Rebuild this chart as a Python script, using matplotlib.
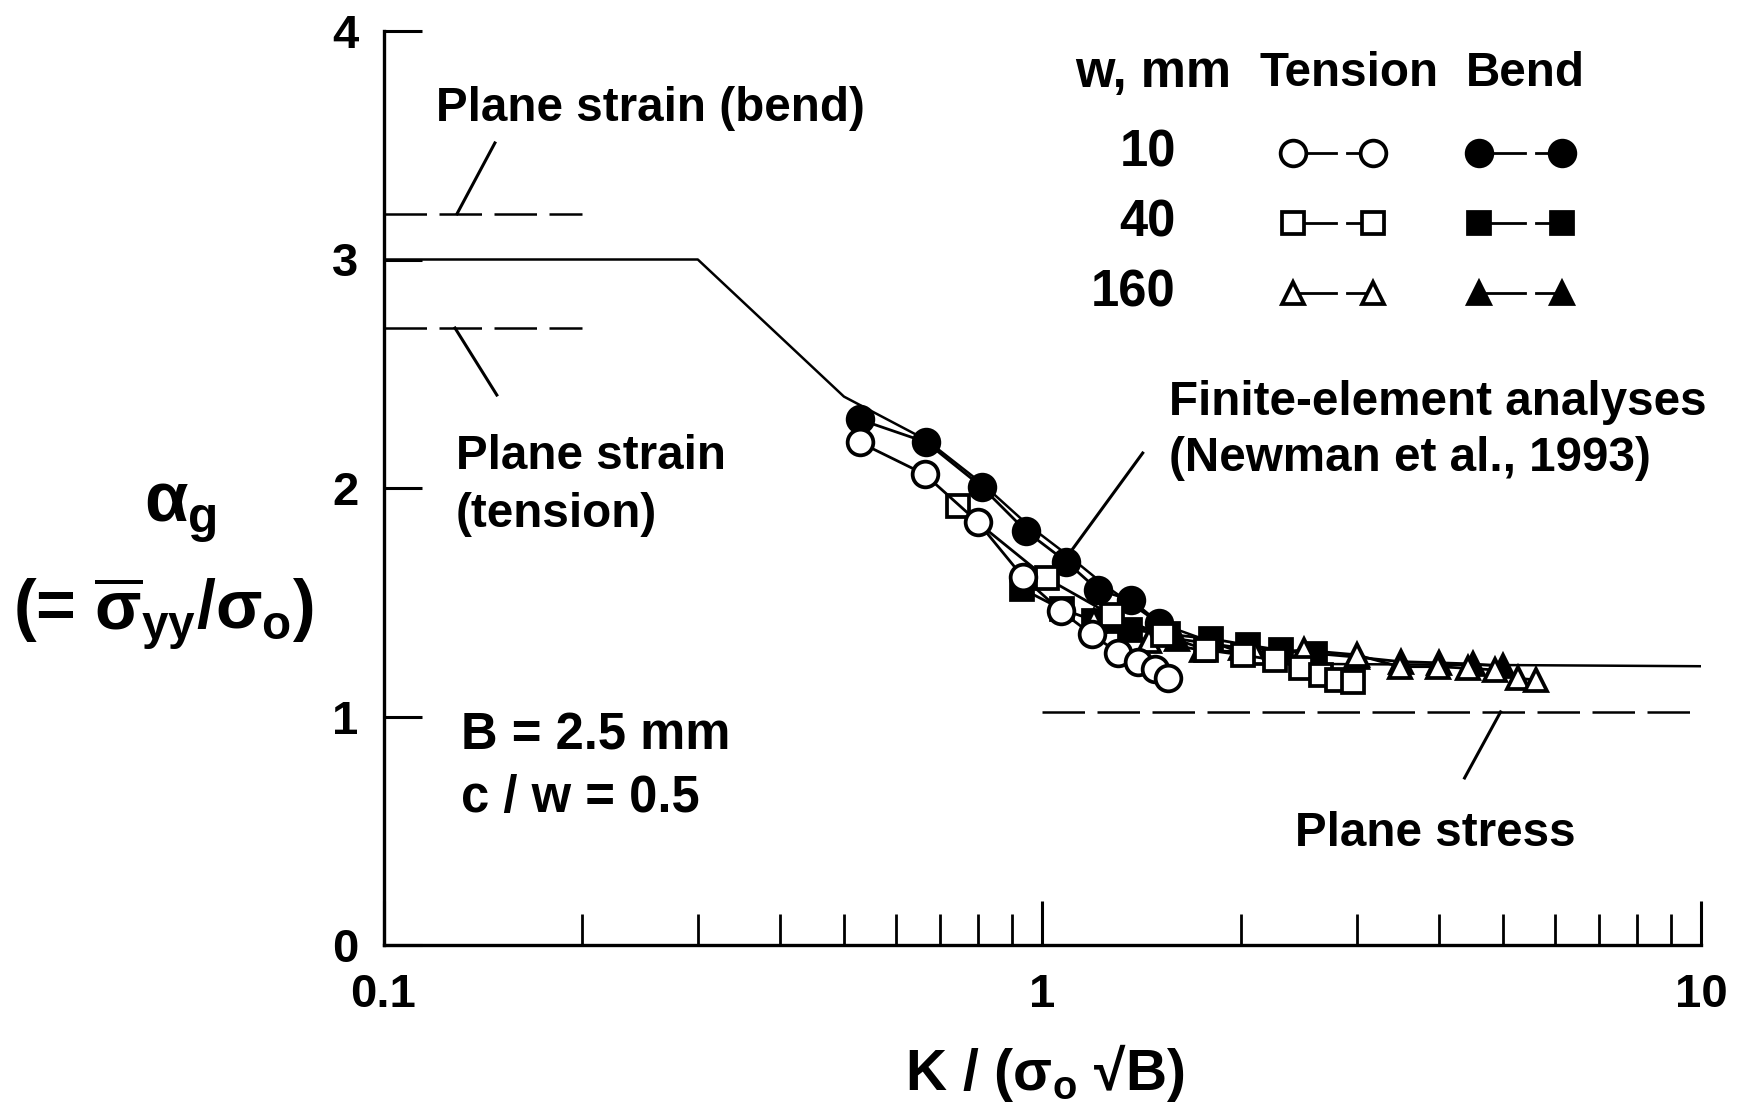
import matplotlib
matplotlib.use("Agg")
import matplotlib.pyplot as plt
from matplotlib.ticker import FixedLocator, NullFormatter, FixedFormatter

plt.rcParams['font.family'] = ['Liberation Sans', 'DejaVu Sans']
plt.rcParams['font.weight'] = 'bold'
plt.rcParams['mathtext.fontset'] = 'custom'
for k in ['rm', 'it', 'bf', 'sf']:
    plt.rcParams['mathtext.' + k] = 'Liberation Sans:bold'

# ---------------- data ----------------
# Finite-element analyses (Newman et al., 1993)
fe_x = [0.1, 0.3, 0.5, 0.667, 0.81, 0.95, 1.1, 1.25, 1.5, 2.0, 2.6, 10.0]
fe_y = [3.0, 3.0, 2.40, 2.21, 2.02, 1.84, 1.70, 1.57, 1.41, 1.28, 1.23, 1.22]

# Plane strain limits (0.1 - 0.2) and plane stress limit (1 - 10)
ps_bend_x = [0.1, 0.2]
ps_bend_y = [3.2, 3.2]
ps_tens_x = [0.1, 0.2]
ps_tens_y = [2.7, 2.7]
pstress_x = [1.0, 10.0]
pstress_y = [1.02, 1.02]

# Tension (open markers)
t10_x = [0.528, 0.663, 0.799, 0.935, 1.069, 1.188, 1.303, 1.398, 1.482, 1.552]
t10_y = [2.20, 2.06, 1.85, 1.61, 1.46, 1.36, 1.28, 1.24, 1.21, 1.17]
t40_x = [0.744, 1.015, 1.274, 1.526, 1.775, 2.017, 2.253, 2.474, 2.653, 2.80, 2.963]
t40_y = [1.92, 1.605, 1.444, 1.357, 1.291, 1.269, 1.247, 1.211, 1.18, 1.16, 1.15]
t160_x = [1.2, 1.45, 1.75, 2.1, 2.5, 3.0, 3.49, 3.99, 4.43, 4.86, 5.27, 5.62]
t160_y = [1.42, 1.33, 1.29, 1.28, 1.29, 1.27, 1.218, 1.218, 1.211, 1.204, 1.167, 1.16]

# Bend (filled markers)
b10_x = [0.528, 0.667, 0.809, 0.946, 1.088, 1.215, 1.365, 1.504]
b10_y = [2.30, 2.20, 2.006, 1.81, 1.677, 1.554, 1.51, 1.41]
b40_x = [0.933, 1.07, 1.2, 1.36, 1.55, 1.806, 2.05, 2.3, 2.59]
b40_y = [1.558, 1.47, 1.42, 1.38, 1.36, 1.34, 1.313, 1.29, 1.275]
b160_x = [1.3, 1.6, 2.0, 2.5, 3.0, 3.5, 4.0, 4.5, 5.0]
b160_y = [1.42, 1.34, 1.30, 1.28, 1.26, 1.24, 1.235, 1.23, 1.22]

legend_rows = ['10', '40', '160']
legend_markers = ['o', 's', '^']

x_major = [0.1, 1, 10]
x_major_labels = ['0.1', '1', '10']
x_minor = [0.2, 0.3, 0.4, 0.5, 0.6, 0.7, 0.8, 0.9, 2, 3, 4, 5, 6, 7, 8, 9]
y_major = [0, 1, 2, 3, 4]

# ---------------- figure ----------------
fig = plt.figure(figsize=(17.43, 11.08), dpi=100)
ax = fig.add_axes([383.5 / 1743, 1 - 945 / 1108, 1317.5 / 1743, 914 / 1108])
ax.set_xscale('log')
ax.set_xlim(0.1, 10)
ax.set_ylim(0, 4)
for s in ['top', 'right']:
    ax.spines[s].set_visible(False)
for s in ['left', 'bottom']:
    ax.spines[s].set_linewidth(2.4)

ax.xaxis.set_major_locator(FixedLocator(x_major))
ax.xaxis.set_major_formatter(FixedFormatter(x_major_labels))
ax.xaxis.set_minor_locator(FixedLocator(x_minor))
ax.xaxis.set_minor_formatter(NullFormatter())
ax.yaxis.set_major_locator(FixedLocator(y_major))
ax.set_yticklabels([str(v) for v in y_major])
ax.tick_params(axis='x', which='major', direction='in', length=32, width=2.2,
               labelsize=34, pad=20)
ax.tick_params(axis='x', which='minor', direction='in', length=22, width=2.0)
ax.tick_params(axis='y', which='major', direction='in', length=27, width=2.2,
               labelsize=34, pad=18)

lw = 1.8
dash = (0, (17, 5))
ax.plot(ps_bend_x, ps_bend_y, color='black', lw=lw, ls=dash)
ax.plot(ps_tens_x, ps_tens_y, color='black', lw=lw, ls=dash)
ax.plot(pstress_x, pstress_y, color='black', lw=lw, ls=dash)
ax.plot(fe_x, fe_y, color='black', lw=lw, zorder=2)

ms_c, ms_s, ms_t = 18.5, 15.5, 16.5
mew = 2.7
# bend (filled)
ax.plot(b10_x, b10_y, '-o', color='black', lw=2.0, ms=ms_c, mfc='black', mec='black', mew=mew, zorder=3)
ax.plot(b40_x, b40_y, '-s', color='black', lw=2.0, ms=ms_s, mfc='black', mec='black', mew=mew, zorder=3)
ax.plot(b160_x, b160_y, '-^', color='black', lw=2.0, ms=ms_t, mfc='black', mec='black', mew=mew, zorder=3)
# tension (open)
ax.plot(t160_x, t160_y, '-^', color='black', lw=2.0, ms=ms_t, mfc='white', mec='black', mew=mew, zorder=4)
ax.plot(t40_x, t40_y, '-s', color='black', lw=2.0, ms=ms_s, mfc='white', mec='black', mew=mew, zorder=4)
ax.plot(t10_x, t10_y, '-o', color='black', lw=2.0, ms=ms_c, mfc='white', mec='black', mew=mew, zorder=4)

# ---------------- annotations ----------------
fw = 34.3   # words
fd = 36.5   # digit-heavy text
ax.text(0.1201, 3.66, 'Plane strain (bend)', fontsize=fw, va='center', ha='left')
ax.plot([0.1476, 0.1293], [3.51, 3.20], color='black', lw=2.2)
ax.text(0.1288, 2.14, 'Plane strain', fontsize=fw, va='center', ha='left')
ax.text(0.1288, 1.886, '(tension)', fontsize=fw, va='center', ha='left')
ax.plot([0.1284, 0.1486], [2.70, 2.407], color='black', lw=2.2)
ax.text(1.556, 2.376, 'Finite-element analyses', fontsize=fw, va='center', ha='left')
ax.text(1.556, 2.131, '(Newman et al., 1993)', fontsize=fw, va='center', ha='left')
ax.plot([1.4206, 1.1007], [2.153, 1.7155], color='black', lw=2.2)
ax.text(3.954, 0.486, 'Plane stress', fontsize=fw, va='center', ha='center')
ax.plot([4.963, 4.376], [1.02, 0.731], color='black', lw=2.2)
ax.text(0.131, 0.915, 'B = 2.5 mm', fontsize=fd, va='center', ha='left')
ax.text(0.131, 0.643, 'c / w = 0.5', fontsize=fd, va='center', ha='left')

# ---------------- legend (custom table) ----------------
T = ax.transAxes
ax.text(0.584, 0.953, 'w, mm', transform=T, fontsize=fd, ha='center', va='center')
ax.text(0.7325, 0.953, 'Tension', transform=T, fontsize=fw, ha='center', va='center')
ax.text(0.867, 0.953, 'Bend', transform=T, fontsize=fw, ha='center', va='center')
row_y = [0.8665, 0.790, 0.7133]
for lab, mk, yy in zip(legend_rows, legend_markers, row_y):
    ax.text(0.6015, yy, lab, transform=T, fontsize=fd, ha='right', va='center')
    ms = {'o': ms_c, 's': ms_s, '^': ms_t}[mk]
    for (x0, x1, xb), fc in [((0.6903, 0.7514, 0.723), 'white'),
                             ((0.8315, 0.8945, 0.8664), 'black')]:
        ax.plot([x0, xb], [yy, yy], transform=T, color='black', lw=2.0, clip_on=False)
        ax.plot([xb + 0.0085, x1], [yy, yy], transform=T, color='black', lw=2.0, clip_on=False)
        ax.plot([x0], [yy], transform=T, marker=mk, ms=ms, mfc=fc, mec='black',
                mew=mew, clip_on=False, ls='none')
        ax.plot([x1], [yy], transform=T, marker=mk, ms=ms, mfc=fc, mec='black',
                mew=mew, clip_on=False, ls='none')

# ---------------- axis labels ----------------
fig.text(1045 / 1743, 1 - 1073 / 1108, r'K / (σ$_{o}$ √B)', fontsize=41,
         ha='center', va='center')
fig.text(180 / 1743, 1 - 511 / 1108, r'$\alpha_{g}$', fontsize=51, ha='center', va='center')
fig.text(163 / 1743, 1 - 613 / 1108, r'(= $\overline{\sigma}_{yy}$/$\sigma_{o}$)',
         fontsize=49, ha='center', va='center')

fig.savefig('out.png', dpi=100)
